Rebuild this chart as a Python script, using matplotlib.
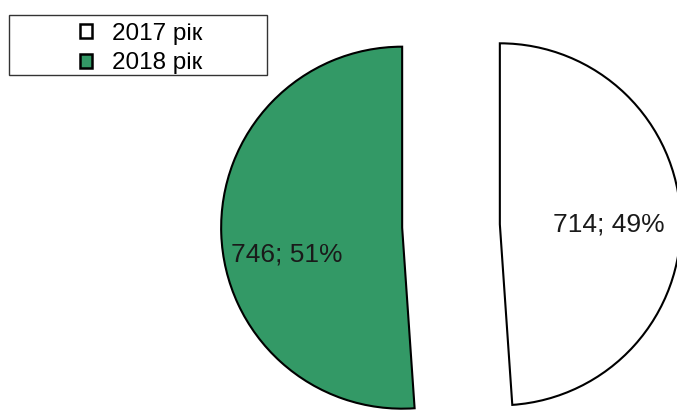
import matplotlib.pyplot as plt
from matplotlib.patches import Rectangle

years = ["2017 рік", "2018 рік"]
counts = [714, 746]
colors = ["white", "#339966"]

plt.rcParams["font.family"] = ["Liberation Sans", "DejaVu Sans"]

total = sum(counts)

def make_label(pct):
    return "{}; {:.0f}%".format(int(round(pct * total / 100.0)), pct)

fig = plt.figure(figsize=(6.77, 4.12), dpi=100)
ax = fig.add_axes([0, 0, 1, 1])

wedges, texts, autotexts = ax.pie(
    counts, colors=colors, startangle=90, counterclock=False,
    explode=[0.27, 0.27], autopct=make_label, pctdistance=0.6,
    wedgeprops={"edgecolor": "black", "linewidth": 1.5},
    textprops={"fontsize": 19, "color": "#1a1a1a"})

# push the 2018 label a little lower, as in the original
x, y = autotexts[1].get_position()
autotexts[1].set_position((x - 0.04, y - 0.13))
x, y = autotexts[0].get_position()
autotexts[0].set_position((x, y - 0.02))

# one radius = 181 px, pie centre at (451, 226) px
ax.set_aspect("auto")
ax.set_xlim(-451 / 181, (677 - 451) / 181)
ax.set_ylim(-(412 - 226) / 181, 226 / 181)
ax.axis("off")

leg = fig.legend(wedges, years, loc="upper left",
                 bbox_to_anchor=(80 / 677, 1 - 23 / 412),
                 frameon=False, fontsize=17.5, handlelength=0.5,
                 handleheight=0.5, handletextpad=0.8, labelspacing=0.3,
                 borderpad=0, borderaxespad=0)
for h in leg.legend_handles:
    h.set_linewidth(1.8)

fig.patches.append(Rectangle((9 / 677, 1 - 75 / 412), 258 / 677, 60 / 412,
                             transform=fig.transFigure, fill=False,
                             edgecolor="#333333", linewidth=1.0))

fig.savefig("out.png", dpi=100)
